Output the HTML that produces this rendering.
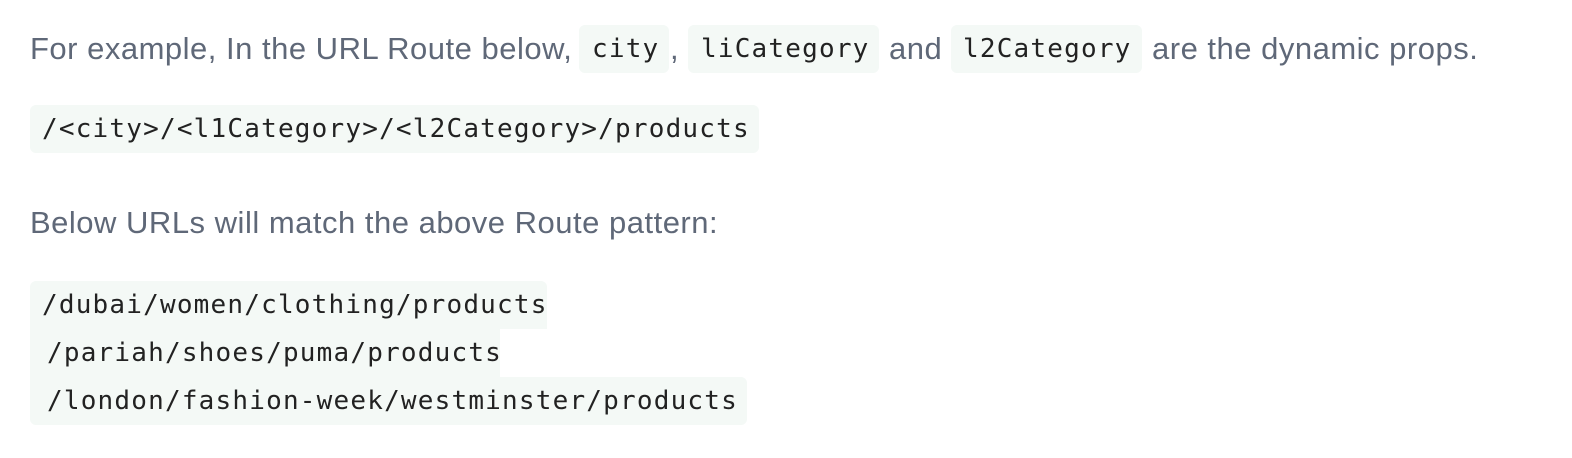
<!DOCTYPE html>
<html><head><meta charset="utf-8"><style>
body{margin:0;width:1572px;height:458px;background:#fff;position:relative;overflow:hidden}
.t{position:absolute;left:30px;font-family:"Liberation Sans",Arial,sans-serif;font-size:31px;letter-spacing:0.5px;color:#5f6878;white-space:nowrap;line-height:48px}
.c{position:absolute;background:#f4f9f6;border-radius:6px;font-family:"DejaVu Sans Mono","Liberation Mono",monospace;font-size:26px;letter-spacing:1.2px;color:#222;line-height:48px;height:48px;white-space:nowrap;box-sizing:border-box}
</style></head><body>
<div class="t" style="top:25px">For example, In the URL Route below,</div>
<div class="c" style="left:579px;top:25px;width:90px;padding-left:13px">city</div>
<div class="t" style="left:670px;top:25px">,</div>
<div class="c" style="left:688px;top:25px;width:191px;padding-left:13px">liCategory</div>
<div class="t" style="left:889px;top:25px">and</div>
<div class="c" style="left:951px;top:25px;width:191px;padding-left:12px">l2Category</div>
<div class="t" style="left:1152px;top:25px">are the dynamic props.</div>
<div class="c" style="left:30px;top:105px;width:729px;padding-left:12px">/&lt;city&gt;/&lt;l1Category&gt;/&lt;l2Category&gt;/products</div>
<div class="t" style="top:199px">Below URLs will match the above Route pattern:</div>
<div class="c" style="left:30px;top:281px;width:517px;padding-left:12px;border-radius:6px 6px 0 0">/dubai/women/clothing/products</div>
<div class="c" style="left:30px;top:329px;width:470px;padding-left:17px;border-radius:0">/pariah/shoes/puma/products</div>
<div class="c" style="left:30px;top:377px;width:717px;padding-left:17px;border-radius:0 6px 6px 6px">/london/fashion-week/westminster/products</div>
</body></html>
